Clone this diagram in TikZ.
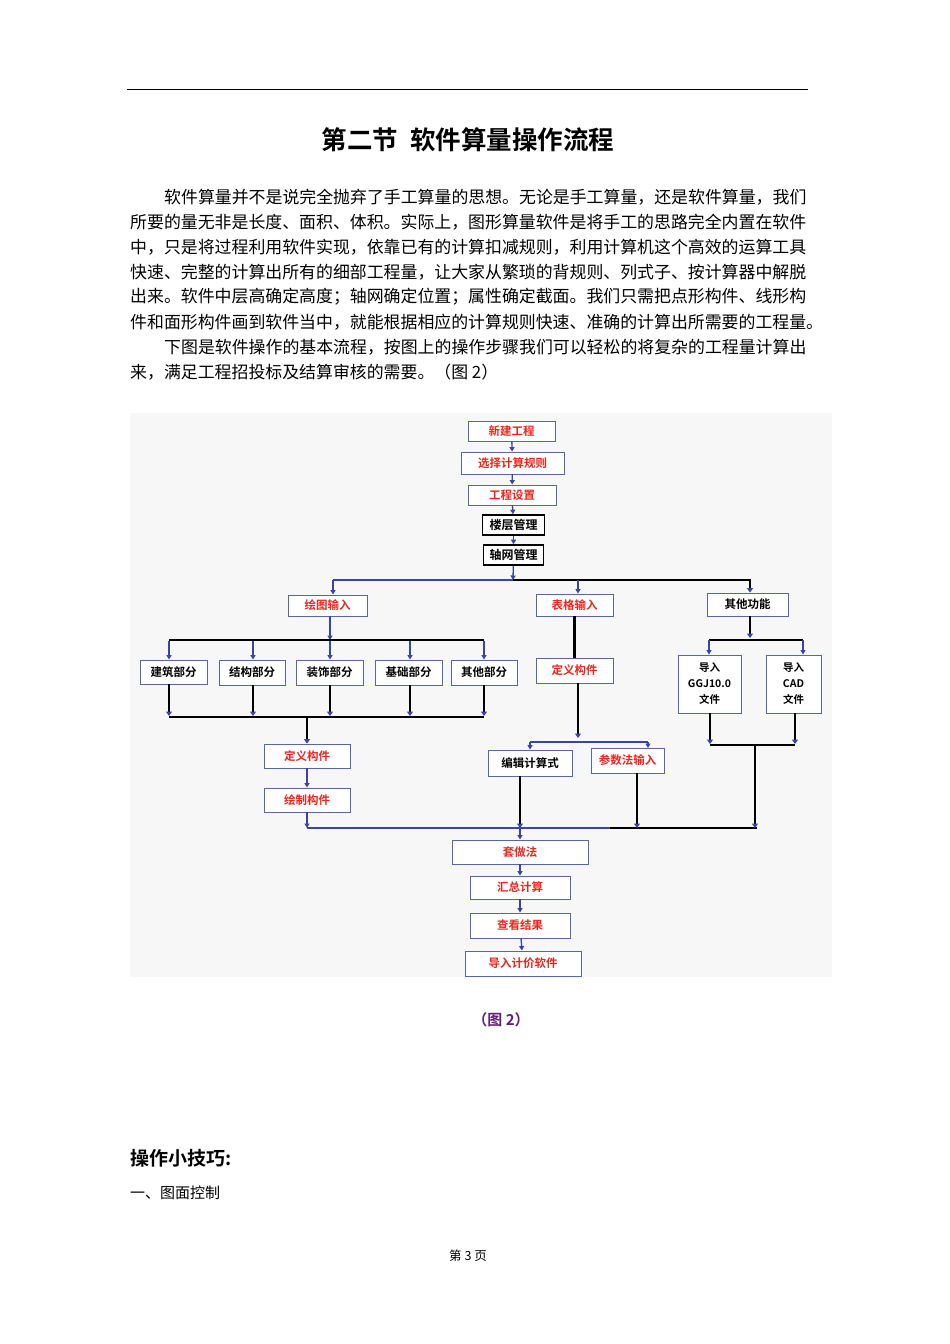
\documentclass[tikz,border=0pt]{standalone}
\usepackage{fontspec}
\setmainfont{Noto Sans CJK SC}[BoldFont={Noto Sans CJK SC Bold}]
\usetikzlibrary{arrows.meta}
\definecolor{bc}{HTML}{5A64A8}
\definecolor{ac}{HTML}{3A44A8}
\definecolor{rc}{HTML}{E8281E}
\tikzset{
 box/.style={draw=bc,line width=0.9pt,fill=white,inner sep=0pt,font=\bfseries\fontsize{11.5}{12}\selectfont,text=rc,align=center},
 kbox/.style={box,text=black},
 bbox/.style={box,draw=black,line width=1.6pt,text=black,font=\bfseries\fontsize{12}{12}\selectfont},
 arr/.style={draw=ac,line width=1.3pt,-{Triangle[length=4.5pt,width=5pt,color=ac]}},
 karr/.style={draw=black,line width=2.4pt,-{Triangle[length=4.5pt,width=6pt,color=ac]}},
 kl/.style={draw=black,line width=2.6pt},
 bl/.style={draw=ac,line width=1.8pt},
 body/.style={anchor=west,inner sep=0pt,font=\fontsize{16.9}{17}\selectfont},
}
\begin{document}
\begin{tikzpicture}[x=1pt,y=-1pt]
\useasboundingbox (0,0) rectangle (950,1344);
\fill[white] (0,0) rectangle (950,1344);
\draw[line width=0.8pt] (127,89) -- (808,89);
\node[font=\bfseries\fontsize{25.5}{26}\selectfont] (title) at (468,140) {第二节\ \ 软件算量操作流程};
\node[body] (p1) at (164,197) {软件算量并不是说完全抛弃了手工算量的思想。无论是手工算量，还是软件算量，我们};
\node[body] (p2) at (130,222) {所要的量无非是长度、面积、体积。实际上，图形算量软件是将手工的思路完全内置在软件};
\node[body] (p3) at (130,247) {中，只是将过程利用软件实现，依靠已有的计算扣减规则，利用计算机这个高效的运算工具};
\node[body] (p4) at (130,272) {快速、完整的计算出所有的细部工程量，让大家从繁琐的背规则、列式子、按计算器中解脱};
\node[body] (p5) at (130,297) {出来。软件中层高确定高度；轴网确定位置；属性确定截面。我们只需把点形构件、线形构};
\node[body] (p6) at (130,322) {件和面形构件画到软件当中，就能根据相应的计算规则快速、准确的计算出所需要的工程量。};
\node[body] (p7) at (164,347) {下图是软件操作的基本流程，按图上的操作步骤我们可以轻松的将复杂的工程量计算出};
\node[body] (p8) at (130,372) {来，满足工程招投标及结算审核的需要。（图 2）};
% diagram background
\fill[black!3] (130,413) rectangle (832,977);
% nodes
\node[box,minimum width=87,minimum height=20] (n1) at (511.5,431) {新建工程};
\node[box,minimum width=103,minimum height=22] (n2) at (512.5,463) {选择计算规则};
\node[box,minimum width=88,minimum height=20] (n3) at (512,495) {工程设置};
\node[bbox,minimum width=62,minimum height=20] (n4) at (513.5,525) {楼层管理};
\node[bbox,minimum width=60,minimum height=20] (n5) at (513.5,555) {轴网管理};
\node[box,minimum width=79,minimum height=21] (d1) at (327.5,605.5) {绘图输入};
\node[box,minimum width=77,minimum height=22] (t1) at (574.5,605) {表格输入};
\node[kbox,minimum width=81,minimum height=23] (o1) at (747.5,604.5) {其他功能};
\node[kbox,minimum width=67,minimum height=24] (s1) at (173.5,672) {建筑部分};
\node[kbox,minimum width=66,minimum height=25] (s2) at (252,672.5) {结构部分};
\node[kbox,minimum width=67,minimum height=25] (s3) at (329.5,672.5) {装饰部分};
\node[kbox,minimum width=67,minimum height=25] (s4) at (408.5,672.5) {基础部分};
\node[kbox,minimum width=66,minimum height=25] (s5) at (484,672.5) {其他部分};
\node[box,minimum width=86,minimum height=24] (d2) at (307,756) {定义构件};
\node[box,minimum width=86,minimum height=24] (d3) at (307,800) {绘制构件};
\node[box,minimum width=77,minimum height=25] (t2) at (574.5,670.5) {定义构件};
\node[kbox,minimum width=84,minimum height=26] (t3) at (530,763) {编辑计算式};
\node[box,minimum width=73,minimum height=25] (t4) at (627.5,760.5) {参数法输入};
\node[kbox,minimum width=63,minimum height=58,font=\bfseries\fontsize{10.5}{16}\selectfont] (o2) at (709.5,684) {导入\\GGJ10.0\\文件};
\node[kbox,minimum width=55,minimum height=58,font=\bfseries\fontsize{10.5}{16}\selectfont] (o3) at (793.5,684) {导入\\CAD\\文件};
\node[box,minimum width=136,minimum height=24] (m1) at (520,852) {套做法};
\node[box,minimum width=100,minimum height=23] (m2) at (520,887.5) {汇总计算};
\node[box,minimum width=100,minimum height=25] (m3) at (520,925.5) {查看结果};
\node[box,minimum width=116,minimum height=25] (m4) at (523,963.5) {导入计价软件};
% top chain
\draw[arr] (n1) -- (n2);
\draw[arr] (n2) -- (n3);
\draw[arr] (n3) -- (n4);
\draw[arr] (n4) -- (n5);
\coordinate (b1) at (513,580);
\draw[arr] (n5) -- (b1);
\draw[bl] (333,580) -- (b1);
\draw[kl] (b1) -- (750,580);
\draw[arr] (333,580) -- (d1.north -| 333,0);
\draw[arr] (578,580) -- (t1.north -| 578,0);
\draw[karr] (750,579) -- (o1.north -| 750,0);
% drawing branch
\coordinate (b2) at (330,640);
\draw[arr] (d1.south -| b2) -- (b2);
\draw[kl] (169,640) -- (484,640);
\foreach \n/\x in {s1/169,s2/253,s3/330,s4/410,s5/484}{
  \draw[arr] (\x,641) -- (\n.north -| \x,0);
  \draw[karr] (\n.south -| \x,0) -- (\x,716);
}
\draw[kl] (169,717) -- (484,717);
\draw[karr] (307,717) -- (d2);
\draw[arr] (d2) -- (d3);
\coordinate (b3) at (307,828);
\draw[arr] (d3) -- (b3);
\draw[bl] (307,828) -- (610,828);
\draw[kl] (610,828) -- (757,828);
\draw[arr] (520,828) -- (m1);
% table branch
\draw[kl] (t1) -- (t2);
\coordinate (b4) at (578,738);
\draw[karr] (t2.south -| 578,0) -- (b4);
\draw[bl] (530,742) -- (648,742);
\draw[arr] (530,742) -- (t3.north -| 530,0);
\draw[arr] (648,742) -- (648,748);
\draw[karr] (t3.south -| 520,0) -- (520,828);
\draw[karr] (t4.south -| 637,0) -- (637,828);
% other branch
\draw[karr] (o1.south -| 750,0) -- (750,638);
\draw[kl] (709,640) -- (803,640);
\draw[arr] (709,640) -- (o2.north -| 709,0);
\draw[arr] (803,640) -- (o3.north -| 803,0);
\draw[karr] (o2.south -| 710,0) -- (710,744);
\draw[karr] (o3.south -| 795,0) -- (795,744);
\draw[kl] (710,745) -- (795,745);
\draw[karr] (755,745) -- (755,828);
% bottom chain
\draw[arr] (m1) -- (m2);
\draw[arr] (m2) -- (m3);
\draw[arr] (m3) -- (m4);
% text below
\node[font=\bfseries\fontsize{15}{16}\selectfont,text={rgb,255:red,100;green,30;blue,120}] (cap) at (501,1020) {（图 2）};
\node[anchor=west,inner sep=0pt,font=\bfseries\fontsize{19}{20}\selectfont] (tip) at (130,1158) {操作小技巧:};
\node[anchor=west,inner sep=0pt,font=\fontsize{15}{16}\selectfont] (tip1) at (130,1193) {一、图面控制};
\node[font=\fontsize{12.5}{13}\selectfont] (foot) at (468,1256) {第 3 页};
\end{tikzpicture}
\end{document}
